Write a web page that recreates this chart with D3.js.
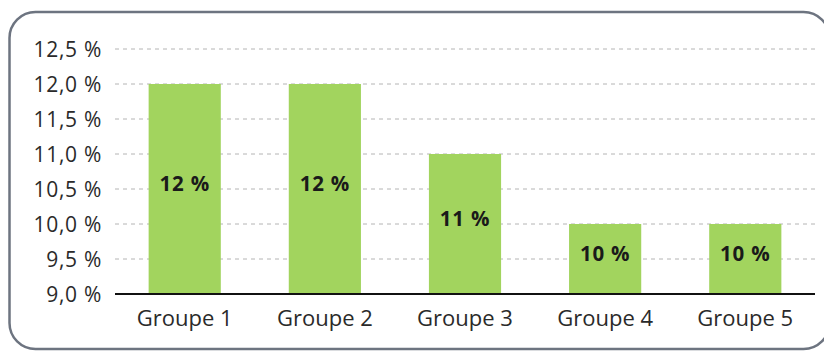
<!DOCTYPE html>
<html>
<head>
<meta charset="utf-8">
<script src="https://cdn.jsdelivr.net/npm/d3@7"></script>
<style>
  html, body { margin: 0; padding: 0; background: #fff; }
  svg { display: block; font-family: "Open Sans", "Noto Sans", sans-serif; }
</style>
</head>
<body>
<svg id="chart" width="824" height="352"></svg>
<script>
const categories = ["Groupe 1", "Groupe 2", "Groupe 3", "Groupe 4", "Groupe 5"];
const values = [12, 12, 11, 10, 10];
const yTicks = [9.0, 9.5, 10.0, 10.5, 11.0, 11.5, 12.0, 12.5];

const svg = d3.select("#chart");
const W = 824, H = 352;
const margin = { left: 115, right: 9, top: 49, bottom: 58 };

// rounded frame (runs slightly past the right edge)
svg.append("rect")
  .attr("x", 9.5).attr("y", 12)
  .attr("width", 820).attr("height", 337)
  .attr("rx", 26).attr("ry", 26)
  .attr("fill", "#fff")
  .attr("stroke", "#6d7480")
  .attr("stroke-width", 2.5);

const x = d3.scaleBand()
  .domain(categories)
  .range([margin.left, W - margin.right])
  .paddingInner(0.485)
  .paddingOuter(0.24);

const y = d3.scaleLinear()
  .domain([9.0, 12.5])
  .range([294, 49]);

const fmt = v => d3.format(".1f")(v).replace(".", ",") + " %";

// dashed grid
svg.append("g")
  .selectAll("line")
  .data(yTicks.filter(t => t > 9.0))
  .join("line")
  .attr("x1", margin.left).attr("x2", 815)
  .attr("y1", d => y(d)).attr("y2", d => y(d))
  .attr("stroke", "#b4b4b4")
  .attr("stroke-width", 1)
  .attr("stroke-dasharray", "4,4");

// y axis labels
const yAxis = d3.axisLeft(y).tickValues(yTicks).tickFormat(fmt).tickSize(0).tickPadding(0);
const gy = svg.append("g")
  .attr("transform", `translate(102,1)`)
  .call(yAxis);
gy.select(".domain").remove();
gy.selectAll("text")
  .attr("font-size", 21)
  .attr("letter-spacing", 0.7)
  .attr("fill", "#2a2a2a")
  .attr("font-family", "'Open Sans', sans-serif");

// bars
svg.append("g")
  .selectAll("rect")
  .data(categories)
  .join("rect")
  .attr("x", (d) => x(d))
  .attr("width", x.bandwidth())
  .attr("y", (d, i) => y(values[i]))
  .attr("height", (d, i) => y(9.0) - y(values[i]))
  .attr("fill", "#a2d45e");

// value labels
svg.append("g")
  .selectAll("text")
  .data(categories)
  .join("text")
  .attr("x", d => x(d) + x.bandwidth() / 2)
  .attr("y", (d, i) => (y(values[i]) + y(9.0)) / 2 - 5)
  .attr("dy", "0.35em")
  .attr("text-anchor", "middle")
  .attr("font-size", 20.5)
  .attr("font-weight", 700)
  .attr("letter-spacing", 0.8)
  .attr("fill", "#1a1a1a")
  .text((d, i) => values[i] + " %");

// baseline + category labels
const xAxis = d3.axisBottom(x).tickSize(0).tickPadding(16);
const gx = svg.append("g")
  .attr("transform", `translate(0,${y(9.0)})`)
  .call(xAxis);
gx.select(".domain").remove();
gx.append("line")
  .attr("x1", margin.left).attr("x2", 815)
  .attr("y1", 0).attr("y2", 0)
  .attr("stroke", "#111").attr("stroke-width", 2);
gx.selectAll("text")
  .attr("font-size", 22)
  .attr("fill", "#2a2a2a")
  .attr("font-family", "'Open Sans', sans-serif");
</script>
</body>
</html>
